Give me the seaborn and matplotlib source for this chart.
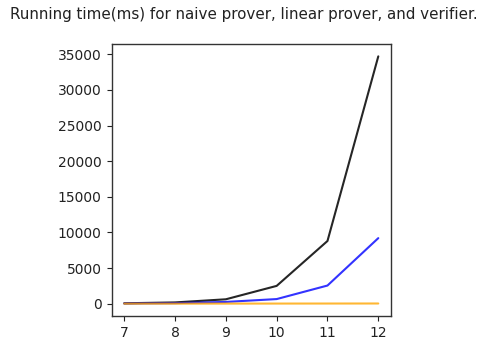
import matplotlib
matplotlib.use("Agg")
import matplotlib.pyplot as plt
import seaborn as sns
import pandas as pd

sizes = [7, 8, 9, 10, 11, 12]
naive_prover = [60, 180, 620, 2500, 8800, 34700]
linear_prover = [30, 80, 250, 650, 2550, 9200]
verifier = [10, 12, 15, 20, 25, 30]

df = pd.DataFrame({"n": sizes, "naive": naive_prover, "linear": linear_prover, "verifier": verifier})

sns.set_style("ticks")
plt.rcParams["font.family"] = ["DejaVu Sans"]
fig = plt.figure(figsize=(4.92, 3.46), dpi=100)
ax = fig.add_axes([111.5 / 492, 1 - 316 / 346, (391 - 111.5) / 492, (316 - 44) / 346])

sns.lineplot(data=df, x="n", y="naive", ax=ax, color="black", alpha=0.85, linewidth=1.5)
sns.lineplot(data=df, x="n", y="linear", ax=ax, color="blue", alpha=0.8, linewidth=1.5)
sns.lineplot(data=df, x="n", y="verifier", ax=ax, color="orange", alpha=0.8, linewidth=1.5)

ax.set_xlabel("")
ax.set_ylabel("")
ax.set_xticks(sizes)
ax.set_yticks([0, 5000, 10000, 15000, 20000, 25000, 30000, 35000])
for s in ax.spines.values():
    s.set_color("#333333")
    s.set_linewidth(1.0)
ax.tick_params(labelsize=10, colors="#222222", length=3.5, width=0.8)

fig.text(244 / 492, 1 - 15 / 346, "Running time(ms) for naive prover, linear prover, and verifier.",
         ha="center", va="center", fontsize=10.9, color="#222222")

fig.savefig("out.png", dpi=100)
